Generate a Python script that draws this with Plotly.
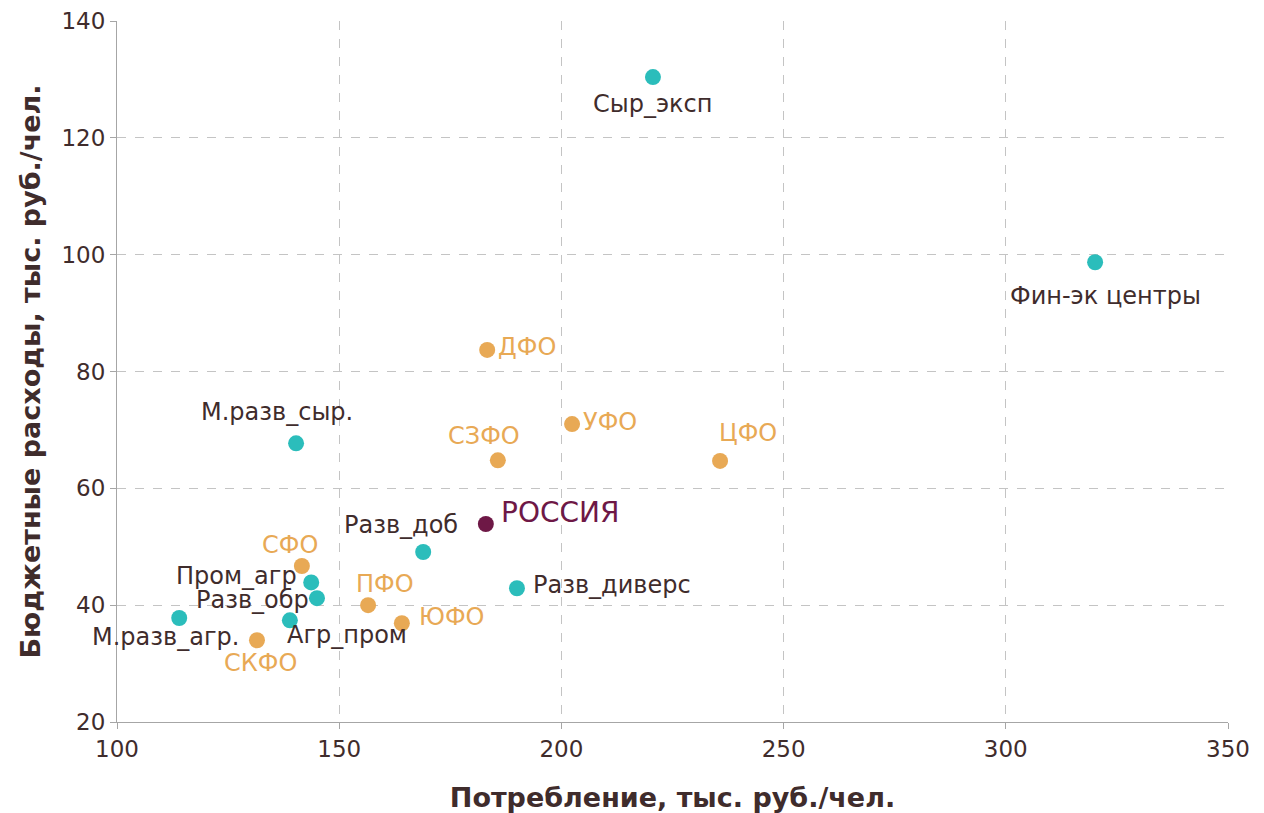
import plotly.graph_objects as go

names = ["Сыр_эксп", "Фин-эк центры", "М.разв_сыр.", "Разв_доб", "Пром_агр", "Разв_обр",
         "Разв_диверс", "Агр_пром", "М.разв_агр.",
         "ДФО", "УФО", "ЦФО", "СЗФО", "СФО", "ПФО", "ЮФО", "СКФО", "РОССИЯ"]
consumption = [220.6, 320.1, 140.3, 168.9, 143.7, 145.0, 190.0, 138.9, 114.0,
               183.3, 202.4, 235.7, 185.7, 141.6, 156.5, 164.1, 131.5, 183.0]
budget = [130.4, 98.7, 67.7, 49.1, 43.9, 41.2, 42.9, 37.4, 37.8,
          83.7, 71.0, 64.7, 64.8, 46.7, 40.0, 36.9, 34.0, 53.9]
group = ["type"] * 9 + ["fo"] * 8 + ["ru"]

x_ticks = [100, 150, 200, 250, 300, 350]
y_ticks = [20, 40, 60, 80, 100, 120, 140]

colors = {"type": "#2bbdbb", "fo": "#e8a955", "ru": "#6e1846"}
text_colors = {"type": "#3f2c2c", "fo": "#e8a955", "ru": "#6e1846"}

# label placement: (xanchor, xshift, yshift)
label_pos = {
    "Сыр_эксп": ("center", 0, -27),
    "Фин-эк центры": ("center", 10, -34),
    "М.разв_сыр.": ("center", -19, 31),
    "Разв_доб": ("center", -22, 27),
    "Пром_агр": ("right", -12, 6),
    "Разв_обр": ("right", -6, -2),
    "Разв_диверс": ("left", 14, 3),
    "Агр_пром": ("center", 57, -15),
    "М.разв_агр.": ("center", -14, -19),
    "ДФО": ("left", 9, 3),
    "УФО": ("left", 9, 2),
    "ЦФО": ("center", 28, 28),
    "СЗФО": ("center", -14, 24),
    "СФО": ("center", -12, 21),
    "ПФО": ("center", 17, 21),
    "ЮФО": ("left", 15, 6),
    "СКФО": ("center", 4, -23),
    "РОССИЯ": ("left", 13, 11),
}

FONT = "DejaVu Sans"
fig = go.Figure()
for g in ["type", "fo", "ru"]:
    idx = [i for i, gg in enumerate(group) if gg == g]
    fig.add_trace(go.Scatter(
        x=[consumption[i] for i in idx], y=[budget[i] for i in idx],
        mode="markers", marker=dict(size=16, color=colors[g]),
        hoverinfo="text", text=[names[i] for i in idx], showlegend=False))

for n, xv, yv, g in zip(names, consumption, budget, group):
    xa, dx, dy = label_pos[n]
    fig.add_annotation(x=xv, y=yv, text=n, showarrow=False, xanchor=xa, yanchor="middle",
                       xshift=dx, yshift=dy,
                       font=dict(family=FONT, size=28 if g == "ru" else 24, color=text_colors[g]))

axis_common = dict(showline=True, linecolor="#a6a6a6", linewidth=1.2,
                   gridcolor="#c4c4c4", griddash="dash", gridwidth=1,
                   ticks="outside", ticklen=6, tickcolor="#a6a6a6",
                   tickfont=dict(family=FONT, size=23, color="#3f2c2c"),
                   zeroline=False, mirror=False, automargin=False)

fig.update_xaxes(range=[100, 350], tickvals=x_ticks, **axis_common,
                 title=dict(text="<b>Потребление, тыс. руб./чел.</b>", standoff=30,
                            font=dict(family=FONT, size=27, color="#3f2c2c")))
fig.update_yaxes(range=[20, 140], tickvals=y_ticks, **axis_common,
                 title=dict(text="<b>Бюджетные расходы, тыс. руб./чел.</b>", standoff=12,
                            font=dict(family=FONT, size=27, color="#3f2c2c")))

fig.update_layout(width=1256, height=805, plot_bgcolor="white", paper_bgcolor="white",
                  margin=dict(l=109, r=36, t=13, b=91))
fig.write_html("out.html")
